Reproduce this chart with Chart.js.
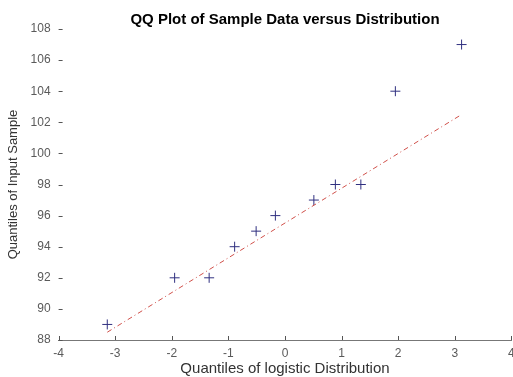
<!DOCTYPE html>
<html>
<head>
<meta charset="utf-8">
<script src="https://cdn.jsdelivr.net/npm/chart.js@4/dist/chart.umd.min.js"></script>
<style>
  html, body { margin: 0; padding: 0; background: #fff; }
  #wrap { width: 513px; height: 377px; }
</style>
</head>
<body>
<div id="wrap"><canvas id="c" width="513" height="377"></canvas></div>
<script>
// Theoretical logistic quantiles (x) and sorted sample values (y)
const theoreticalQuantiles = [-3.14, -1.95, -1.34, -0.89, -0.51, -0.17, 0.51, 0.89, 1.34, 1.95, 3.12];
const sampleQuantiles = [89, 92, 92, 94, 95, 96, 97, 98, 98, 104, 107];
// Reference line (through 1st and 3rd quartiles), endpoints
const refLineX = [-3.14, 3.12];
const refLineY = [88.5, 102.5];
// Axis ticks
const xTicks = [-4, -3, -2, -1, 0, 1, 2, 3, 4];
const yTicks = [88, 90, 92, 94, 96, 98, 100, 102, 104, 106, 108];

const FONT = "'Liberation Sans', Arial, sans-serif";

const innerTicks = {
  id: 'innerTicks',
  afterDatasetsDraw(chart) {
    const {ctx, chartArea, scales} = chart;
    ctx.save();
    ctx.strokeStyle = '#555';
    ctx.lineWidth = 1;
    ctx.beginPath();
    xTicks.forEach(v => {
      const px = Math.round(scales.x.getPixelForValue(v)) + 0.5;
      ctx.moveTo(px, chartArea.bottom);
      ctx.lineTo(px, chartArea.bottom - 4);
    });
    yTicks.forEach(v => {
      const py = Math.round(scales.y.getPixelForValue(v)) + 0.5;
      ctx.moveTo(chartArea.left, py);
      ctx.lineTo(chartArea.left + 4, py);
    });
    ctx.stroke();
    ctx.restore();
  }
};

new Chart(document.getElementById('c'), {
  type: 'scatter',
  data: {
    datasets: [
      {
        type: 'line',
        label: 'reference',
        data: refLineX.map((x, i) => ({x, y: refLineY[i]})),
        borderColor: '#d0504a',
        borderWidth: 1,
        borderDash: [5, 3, 1, 3],
        pointRadius: 0,
        fill: false,
        order: 0
      },
      {
        label: 'sample',
        data: theoreticalQuantiles.map((x, i) => ({x, y: sampleQuantiles[i]})),
        pointStyle: 'cross',
        pointRadius: 5,
        pointBorderWidth: 1,
        borderColor: '#303080',
        backgroundColor: '#303080',
        order: 1
      }
    ]
  },
  options: {
    responsive: false,
    animation: false,
    layout: { autoPadding: false, padding: { left: 0, right: 1.6, top: 0, bottom: 0 } },
    plugins: {
      legend: { display: false },
      tooltip: { enabled: false },
      title: {
        display: true,
        fullSize: false,
        text: 'QQ Plot of Sample Data versus Distribution',
        color: '#000',
        font: { family: FONT, size: 15, weight: 'bold' },
        padding: { top: 11, bottom: 0 }
      }
    },
    scales: {
      x: {
        type: 'linear',
        min: -4, max: 4,
        afterBuildTicks(scale) { scale.ticks = xTicks.map(v => ({value: v})); },
        afterFit(scale) { scale.height = 37; scale.paddingLeft = 0; scale.paddingRight = 0; },
        grid: { display: false, drawTicks: false },
        border: { display: true, color: '#777', width: 1 },
        ticks: { color: '#5a5a5a', font: { family: FONT, size: 12 }, padding: 6, maxRotation: 0 },
        title: {
          display: true,
          text: 'Quantiles of logistic Distribution',
          color: '#333',
          font: { family: FONT, size: 15 },
          padding: { top: 0, bottom: -1 }
        }
      },
      y: {
        type: 'linear',
        min: 88, max: 108,
        afterBuildTicks(scale) { scale.ticks = yTicks.map(v => ({value: v})); },
        afterFit(scale) { scale.width = 58.6; scale.paddingTop = 0; scale.paddingBottom = 0; },
        grid: { display: false, drawTicks: false },
        border: { display: false },
        ticks: { color: '#5a5a5a', font: { family: FONT, size: 12 }, padding: 8 },
        title: {
          display: true,
          text: 'Quantiles of Input Sample',
          color: '#333',
          font: { family: FONT, size: 13 },
          padding: { top: 6, bottom: 0 }
        }
      }
    }
  },
  plugins: [innerTicks]
});
</script>
</body>
</html>
